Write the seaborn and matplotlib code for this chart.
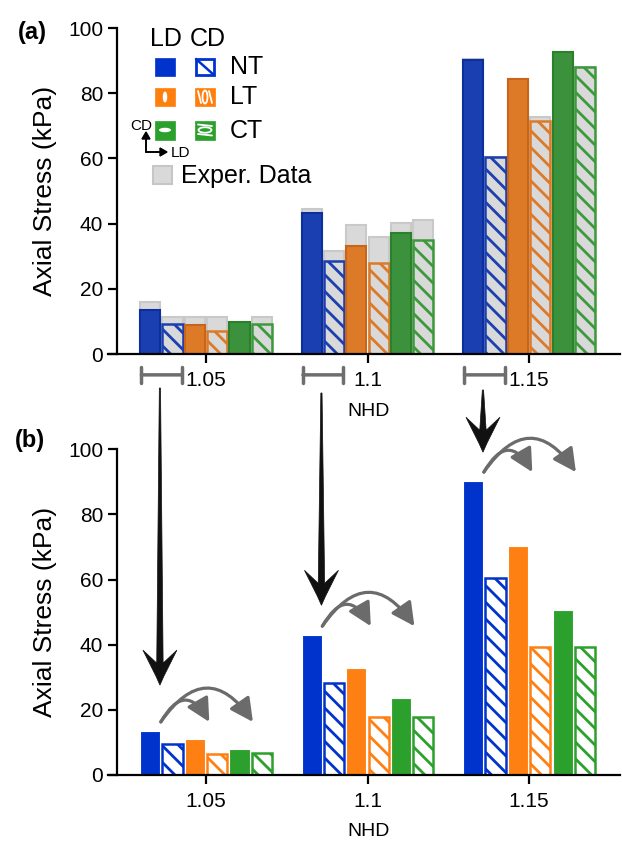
import numpy as np
import pandas as pd
import matplotlib
matplotlib.use("Agg")
import matplotlib.pyplot as plt
import seaborn as sns
from matplotlib.patches import Rectangle, Ellipse, Polygon

# ---------------- data ----------------
nhd = ["1.05", "1.1", "1.15"]
series = ["NT-LD", "NT-CD", "LT-LD", "LT-CD", "CT-LD", "CT-CD"]

# panel (a): model
a_nt_ld = [13.5, 43.3, 90.2]
a_nt_cd = [9.2, 28.4, 60.5]
a_lt_ld = [9.0, 33.0, 84.3]
a_lt_cd = [7.2, 27.9, 71.6]
a_ct_ld = [9.8, 37.1, 92.6]
a_ct_cd = [9.2, 34.9, 88.0]
# panel (a): experimental data
e_nt_ld = [15.9, 44.6, 90.5]
e_nt_cd = [11.5, 31.5, 60.5]
e_lt_ld = [11.5, 39.5, 84.5]
e_lt_cd = [11.5, 35.9, 72.8]
e_ct_ld = [9.5, 40.2, 92.6]
e_ct_cd = [11.3, 41.0, 88.0]
# panel (b)
b_nt_ld = [13.5, 42.9, 90.2]
b_nt_cd = [9.4, 28.4, 60.4]
b_lt_ld = [11.0, 33.0, 70.2]
b_lt_cd = [6.3, 17.7, 39.3]
b_ct_ld = [7.9, 23.5, 50.6]
b_ct_cd = [6.8, 17.7, 39.3]

yticks = [0, 20, 40, 60, 80, 100]


def make_df(cols):
    rows = []
    for s, vals in zip(series, cols):
        for n, v in zip(nhd, vals):
            rows.append({"NHD": n, "series": s, "val": v})
    return pd.DataFrame(rows)


df_a = make_df([a_nt_ld, a_nt_cd, a_lt_ld, a_lt_cd, a_ct_ld, a_ct_cd])
df_e = make_df([e_nt_ld, e_nt_cd, e_lt_ld, e_lt_cd, e_ct_ld, e_ct_cd])
df_b = make_df([b_nt_ld, b_nt_cd, b_lt_ld, b_lt_cd, b_ct_ld, b_ct_cd])

# ---------------- style ----------------
sns.set_style("ticks")
plt.rcParams["font.family"] = ["Liberation Sans", "DejaVu Sans"]
plt.rcParams["hatch.linewidth"] = 2.0
for k in ("text.color", "axes.labelcolor", "xtick.color", "ytick.color", "axes.edgecolor"):
    plt.rcParams[k] = "black"

W, H = 622, 843
fig = plt.figure(figsize=(W / 100, H / 100), dpi=100)
ax_a = fig.add_axes([108 / W, 1 - 354 / H, 512 / W, 326 / H])
ax_b = fig.add_axes([108 / W, 1 - 775 / H, 512 / W, 325.7 / H])

pal_a = ["#1a3fb0", "#1a3fb0", "#dc7a28", "#dc7a28", "#3c913c", "#3c913c"]
edge_a = ["#0d2f9e", "#1a3fb0", "#c8651a", "#dc7a28", "#2b802b", "#3c9a3c"]
pal_b = ["#0033cc", "#0033cc", "#ff8012", "#ff8012", "#2ca02c", "#2ca02c"]

bar_kw = dict(x="NHD", y="val", hue="series", order=nhd, hue_order=series,
              width=0.83, gap=0.1, saturation=1, legend=False, errorbar=None)

# panel (a)
sns.barplot(data=df_e, palette=["#d9d9d9"] * 6, ax=ax_a, **bar_kw)
sns.barplot(data=df_a, palette=pal_a, ax=ax_a, **bar_kw)
for c in ax_a.containers[:6]:
    for p in c:
        p.set_edgecolor("#c9c9c9")
        p.set_linewidth(1.5)
for k, c in enumerate(ax_a.containers[6:]):
    for p in c:
        if k % 2 == 1:
            p.set_facecolor("none")
            p.set_edgecolor(edge_a[k])
            p.set_hatch("\\\\")
            p.set_linewidth(1.8)
        else:
            p.set_edgecolor(edge_a[k])
            p.set_linewidth(1.5)

# panel (b)
sns.barplot(data=df_b, palette=pal_b, ax=ax_b, **bar_kw)
for k, c in enumerate(ax_b.containers):
    for p in c:
        if k % 2 == 1:
            p.set_facecolor("white")
            p.set_edgecolor(pal_b[k])
            p.set_hatch("\\\\")
            p.set_linewidth(1.8)
        else:
            p.set_edgecolor("white")
            p.set_linewidth(0.8)

for ax in (ax_a, ax_b):
    ax.set_xlim(-0.607, 2.563)
    ax.set_ylim(0, 100)
    ax.set_yticks(yticks)
    sns.despine(ax=ax)
    ax.spines["left"].set_position(("axes", 9 / 512))
    for s in ("left", "bottom"):
        ax.spines[s].set_linewidth(1.6)
    ax.tick_params(axis="both", length=6.5, width=1.6, labelsize=15, pad=3.5)
    ax.tick_params(axis="x", pad=6)
    ax.set_ylabel("Axial Stress (kPa)", fontsize=19)
    ax.yaxis.label.set_va("center")
    ax.yaxis.set_label_coords((45 - 108) / 512, 0.5)
    ax.set_xlabel("NHD", fontsize=14)
    ax.xaxis.label.set_va("center")

ax_a.xaxis.set_label_coords(0.508, (354 - 412) / 326)
ax_b.xaxis.set_label_coords(0.508, (775 - 831) / 325.7)

fig.text(32 / W, 1 - 33 / H, "(a)", fontsize=17, fontweight="bold", ha="center", va="center")
fig.text(30 / W, 1 - 440 / H, "(b)", fontsize=17, fontweight="bold", ha="center", va="center")

# ---------------- helpers (figure pixel coords, y from top) ----------------
def fp(x, y):
    return (x / W, 1 - y / H)


def rect(x0, y0, w, h, **kw):
    r = Rectangle((x0 / W, 1 - (y0 + h) / H), w / W, h / H, transform=fig.transFigure, **kw)
    fig.add_artist(r)
    return r


def ell(cx, cy, w, h, **kw):
    e = Ellipse(fp(cx, cy), w / W, h / H, transform=fig.transFigure, **kw)
    fig.add_artist(e)


def to_px(ax, x, y):
    X, Y = ax.transData.transform((x, y))
    return X, H - Y


slot = 0.83 / 6
bw = slot * 0.9

# scale bars under panel (a)
for i in range(3):
    x0 = i - 0.40
    x1 = i - 0.15
    ax_a.annotate("", xy=(x1, -6.4), xytext=(x0, -6.4), xycoords="data",
                  arrowprops=dict(arrowstyle="|-|,widthA=0.55,widthB=0.55", color="#6e6e6e",
                                  lw=2.5, shrinkA=0, shrinkB=0, mutation_scale=10),
                  annotation_clip=False)

# black arrows from (a) to (b)
tips = [27.6, 52.1, 99.1]
tops = [388, 393, 390]
for i in range(3):
    xnt = i - 0.415 + bw + 0.005  # right edge of NT-LD bar
    px, ptip = to_px(ax_b, xnt, tips[i])
    ytop = tops[i]
    hw, hl, notch, sw = 17, 35, 13, 3.2
    yb = ptip - hl
    yn = yb + notch
    pts = [(px - 0.6, ytop), (px + 0.6, ytop), (px + sw, yn), (px + hw, yb),
           (px + 4, ptip - 9), (px, ptip), (px - 4, ptip - 9), (px - hw, yb), (px - sw, yn)]
    fig.add_artist(Polygon([fp(a, b) for a, b in pts], closed=True, transform=fig.transFigure,
                           facecolor="#111111", edgecolor="#111111", lw=0.5))

# curved gray arrows in panel (b)
b_start = b_nt_ld
for i in range(3):
    y0 = b_start[i] + 2.8
    xs = i - 0.28
    for xe, rad in ((i + 0.02, -0.87), (i + 0.29, -0.72)):
        ax_b.annotate("", xy=(xe, y0), xytext=(xs, y0), xycoords="data",
                      arrowprops=dict(arrowstyle="-|>,head_length=0.7,head_width=0.36",
                                      connectionstyle=f"arc3,rad={rad}", color="#6b6b6b",
                                      lw=2.3, shrinkA=0, shrinkB=0, mutation_scale=20),
                      annotation_clip=False)

# ---------------- legend ----------------
blue, orange, green = "#0033cc", "#ff7f0e", "#2ca02c"
fig.text(166 / W, 1 - 38.5 / H, "LD", fontsize=18, ha="center", va="center")
fig.text(208 / W, 1 - 38.5 / H, "CD", fontsize=18, ha="center", va="center")
rows = [(57.5, blue, "NT"), (87.5, orange, "LT"), (121, green, "CT")]
for yy, col, lab in rows:
    rect(155, yy, 20, 18.5, facecolor=col, edgecolor=col, lw=0.5)
    fig.text(230 / W, 1 - (yy + 9.5) / H, lab, fontsize=18, ha="left", va="center")
# NT CD icon
rect(196, 58.5, 18, 16.5, facecolor="white", edgecolor=blue, lw=2)
fig.add_artist(plt.Line2D([196 / W, 214 / W], [1 - 59 / H, 1 - 75 / H], transform=fig.transFigure,
                          color=blue, lw=1.8))
# LT icons
ell(165, 97, 4.5, 11, facecolor="white", edgecolor="none")
rect(195, 87.5, 20, 18.5, facecolor=orange, edgecolor=orange, lw=0.5)
ell(205, 97, 5, 13, facecolor="none", edgecolor="white", lw=1.3)
fig.add_artist(plt.Line2D([198 / W, 201 / W], [1 - 91 / H, 1 - 103 / H], transform=fig.transFigure,
                          color="white", lw=1.3))
fig.add_artist(plt.Line2D([209 / W, 212 / W], [1 - 91 / H, 1 - 103 / H], transform=fig.transFigure,
                          color="white", lw=1.3))
# CT icons
ell(165, 130, 12, 4.5, facecolor="white", edgecolor="none")
rect(195, 121, 20, 18.5, facecolor=green, edgecolor=green, lw=0.5)
ell(205, 130, 13, 5.5, facecolor="none", edgecolor="white", lw=1.3)
fig.add_artist(plt.Line2D([198 / W, 212 / W], [1 - 124.5 / H, 1 - 126 / H], transform=fig.transFigure,
                          color="white", lw=1.3))
fig.add_artist(plt.Line2D([198 / W, 212 / W], [1 - 134 / H, 1 - 135.5 / H], transform=fig.transFigure,
                          color="white", lw=1.3))
# orientation icon
fig.text(141 / W, 1 - 126 / H, "CD", fontsize=11, ha="center", va="center")
fig.text(171 / W, 1 - 153 / H, "LD", fontsize=11, ha="left", va="center")
fig.add_artist(plt.Line2D([146 / W, 146 / W], [1 - 152 / H, 1 - 138 / H], transform=fig.transFigure,
                          color="black", lw=1.4))
fig.add_artist(plt.Line2D([146 / W, 161 / W], [1 - 152 / H, 1 - 152 / H], transform=fig.transFigure,
                          color="black", lw=1.4))
fig.add_artist(Polygon([fp(142, 139), fp(150, 139), fp(146, 132)], closed=True,
                       transform=fig.transFigure, color="black"))
fig.add_artist(Polygon([fp(160, 148), fp(160, 156), fp(167, 152)], closed=True,
                       transform=fig.transFigure, color="black"))
# Exper. Data
rect(153, 166, 19, 18, facecolor="#d9d9d9", edgecolor="#c6c6c6", lw=1.5)
fig.text(181 / W, 1 - 176 / H, "Exper. Data", fontsize=18, ha="left", va="center")

fig.savefig("out.png", dpi=100)
